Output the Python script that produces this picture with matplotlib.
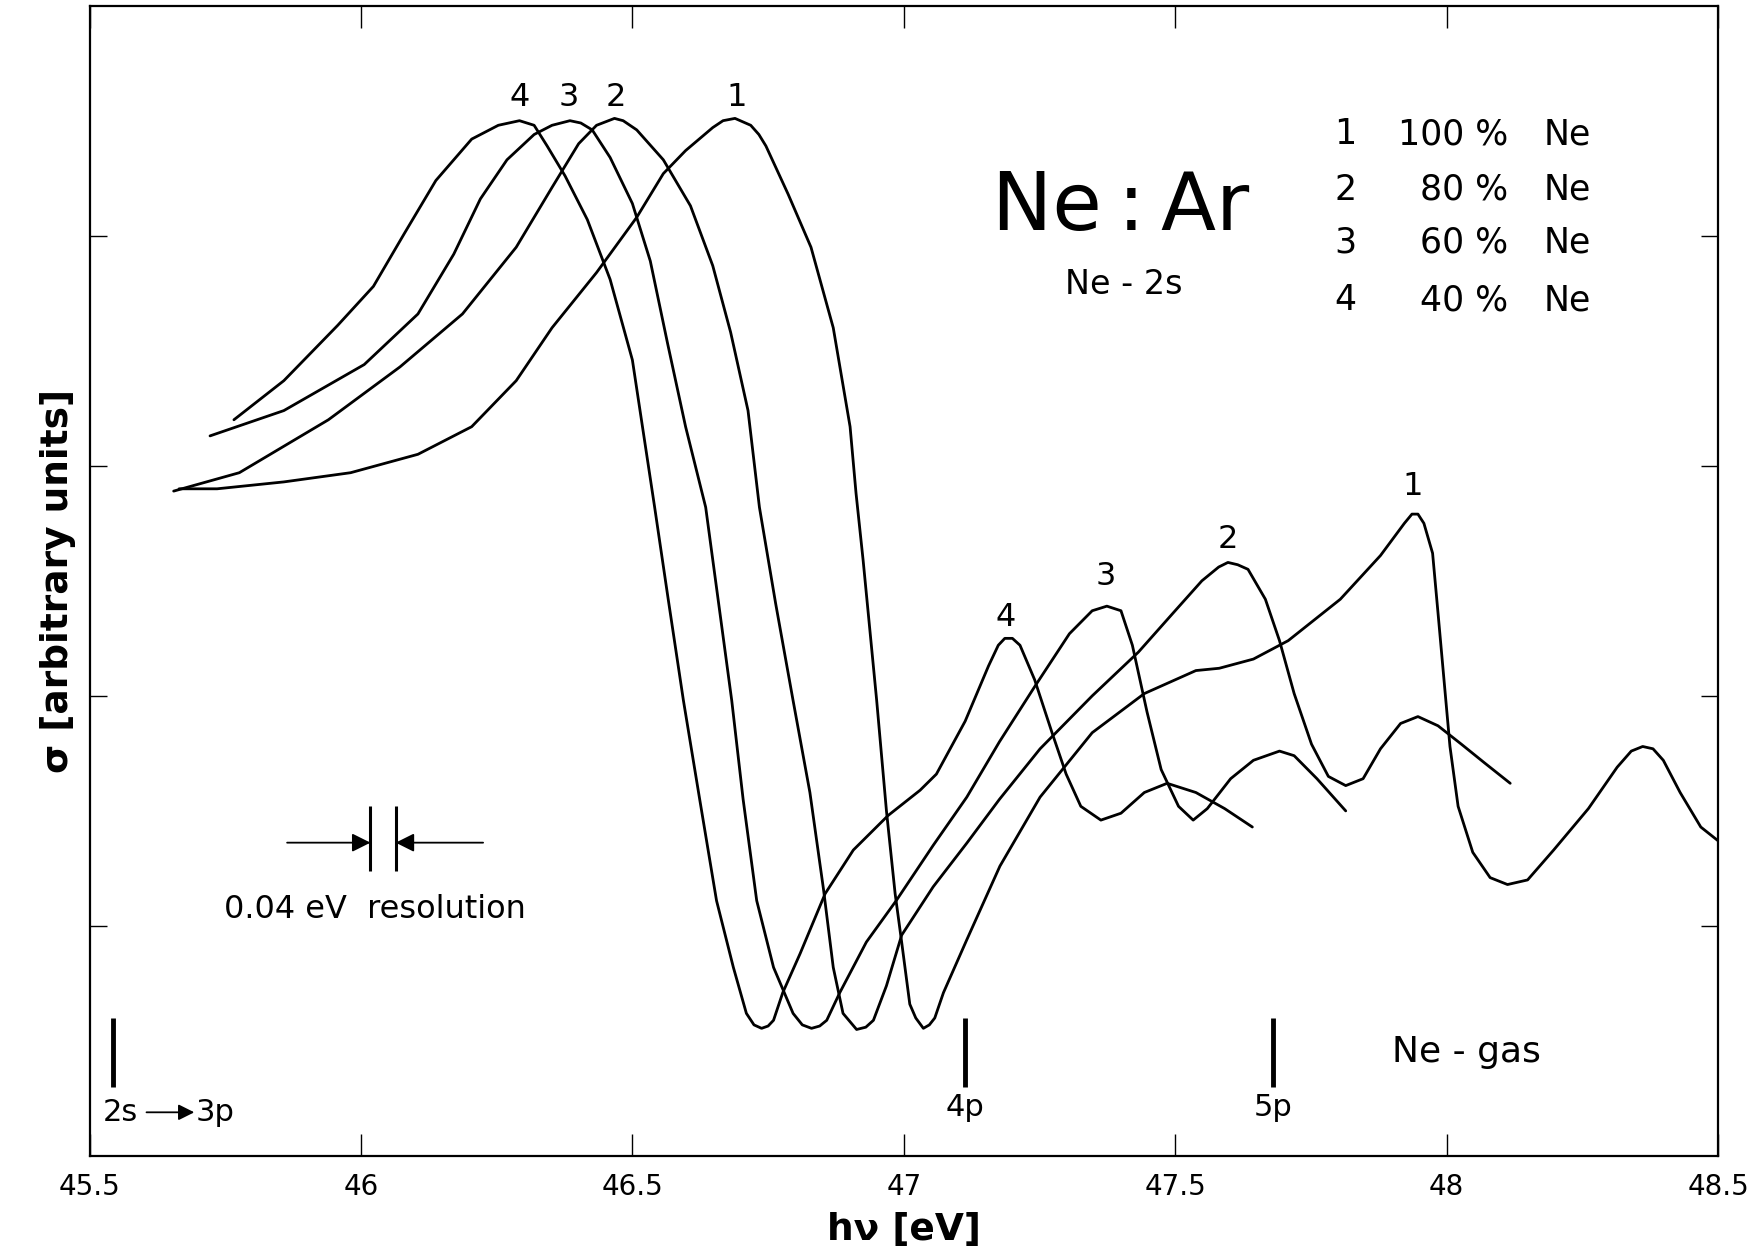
import matplotlib
matplotlib.use('Agg')
import matplotlib.pyplot as plt
import numpy as np

plt.rcParams['font.family'] = ['DejaVu Sans']

# photon energy (eV) and cross section (arb. units)
x1 = [45.665, 45.735, 45.858, 45.981, 46.105, 46.204, 46.286, 46.352, 46.434, 46.508,
      46.557, 46.598, 46.648, 46.667, 46.689, 46.718, 46.733, 46.746, 46.787, 46.829,
      46.870, 46.901, 46.912, 46.925, 46.950, 46.968, 46.984, 46.996, 47.011, 47.022,
      47.036, 47.047, 47.057, 47.073, 47.116, 47.177, 47.251, 47.347, 47.443, 47.538,
      47.581, 47.644, 47.708, 47.804, 47.878, 47.922, 47.936, 47.947, 47.958, 47.974,
      47.984, 47.995, 48.006, 48.021, 48.048, 48.080, 48.112, 48.149, 48.197, 48.261,
      48.314, 48.340, 48.361, 48.380, 48.399, 48.430, 48.468, 48.500]
y1 = [2.90, 2.90, 2.93, 2.97, 3.05, 3.17, 3.37, 3.60, 3.84, 4.08,
      4.27, 4.37, 4.47, 4.50, 4.51, 4.48, 4.44, 4.39, 4.18, 3.95,
      3.60, 3.17, 2.88, 2.59, 1.98, 1.50, 1.14, 0.93, 0.66, 0.60,
      0.555, 0.57, 0.60, 0.71, 0.94, 1.26, 1.56, 1.84, 2.01, 2.11,
      2.12, 2.16, 2.24, 2.42, 2.61, 2.75, 2.79, 2.79, 2.75, 2.62,
      2.36, 2.07, 1.78, 1.52, 1.32, 1.21, 1.18, 1.20, 1.33, 1.51,
      1.69, 1.76, 1.78, 1.77, 1.72, 1.58, 1.43, 1.37]

x2 = [45.655, 45.776, 45.940, 46.072, 46.187, 46.286, 46.352, 46.401, 46.434, 46.467,
      46.483, 46.508, 46.557, 46.607, 46.648, 46.681, 46.713, 46.734, 46.764, 46.796,
      46.827, 46.852, 46.870, 46.888, 46.913, 46.930, 46.944, 46.968, 46.996, 47.054,
      47.116, 47.176, 47.251, 47.347, 47.432, 47.496, 47.549, 47.580, 47.597, 47.615,
      47.634, 47.666, 47.692, 47.719, 47.751, 47.782, 47.814, 47.846, 47.878, 47.915,
      47.947, 47.984, 48.027, 48.069, 48.117]
y2 = [2.89, 2.97, 3.20, 3.43, 3.66, 3.95, 4.21, 4.40, 4.48, 4.51,
      4.50, 4.46, 4.33, 4.13, 3.87, 3.58, 3.24, 2.82, 2.40, 1.98,
      1.58, 1.16, 0.82, 0.62, 0.55, 0.56, 0.59, 0.74, 0.96, 1.17,
      1.36, 1.55, 1.77, 2.00, 2.19, 2.36, 2.50, 2.56, 2.58, 2.57,
      2.55, 2.42, 2.24, 2.01, 1.79, 1.65, 1.61, 1.64, 1.77, 1.88,
      1.91, 1.87, 1.79, 1.71, 1.62]

x3 = [45.722, 45.858, 46.006, 46.105, 46.171, 46.220, 46.269, 46.319, 46.352, 46.385,
      46.405, 46.426, 46.459, 46.500, 46.533, 46.565, 46.598, 46.635, 46.659, 46.683,
      46.704, 46.729, 46.760, 46.796, 46.813, 46.830, 46.845, 46.858, 46.882, 46.931,
      46.986, 47.054, 47.116, 47.176, 47.241, 47.305, 47.347, 47.374, 47.400, 47.421,
      47.448, 47.474, 47.506, 47.533, 47.559, 47.602, 47.644, 47.692, 47.719, 47.761,
      47.814]
y3 = [3.13, 3.24, 3.44, 3.66, 3.92, 4.16, 4.33, 4.44, 4.48, 4.50,
      4.49, 4.46, 4.34, 4.14, 3.89, 3.53, 3.17, 2.82, 2.40, 1.98,
      1.55, 1.11, 0.82, 0.62, 0.57, 0.555, 0.565, 0.59, 0.71, 0.93,
      1.11, 1.35, 1.56, 1.80, 2.04, 2.27, 2.37, 2.39, 2.37, 2.22,
      1.93, 1.68, 1.52, 1.46, 1.51, 1.64, 1.72, 1.76, 1.74, 1.64,
      1.50]

x4 = [45.766, 45.858, 45.957, 46.023, 46.080, 46.138, 46.204, 46.253, 46.292, 46.319,
      46.343, 46.376, 46.417, 46.459, 46.500, 46.541, 46.566, 46.594, 46.624, 46.655,
      46.686, 46.710, 46.724, 46.738, 46.750, 46.760, 46.777, 46.809, 46.855, 46.907,
      46.971, 47.030, 47.060, 47.113, 47.156, 47.174, 47.186, 47.200, 47.214, 47.241,
      47.273, 47.299, 47.326, 47.363, 47.400, 47.443, 47.485, 47.538, 47.591, 47.642]
y4 = [3.20, 3.37, 3.61, 3.78, 4.01, 4.24, 4.42, 4.48, 4.50, 4.48,
      4.39, 4.26, 4.07, 3.81, 3.46, 2.82, 2.42, 1.98, 1.55, 1.11,
      0.82, 0.62, 0.57, 0.555, 0.565, 0.59, 0.71, 0.88, 1.14, 1.33,
      1.48, 1.59, 1.66, 1.89, 2.13, 2.22, 2.25, 2.25, 2.22, 2.07,
      1.84, 1.66, 1.52, 1.46, 1.49, 1.58, 1.62, 1.58, 1.51, 1.43]

curves = [(x1, y1), (x2, y2), (x3, y3), (x4, y4)]
curve_names = ['1', '2', '3', '4']
ne_percent = ['100 %', '80 %', '60 %', '40 %']

# peak labels: (x, y) of the number written above each peak
top_label_x = [46.692, 46.469, 46.382, 46.292]
top_label_y = [4.60, 4.60, 4.60, 4.60]
right_label_x = [47.937, 47.597, 47.372, 47.187]
right_label_y = [2.91, 2.68, 2.52, 2.34]

# Ne-gas Rydberg lines
line_pos = [45.544, 47.112, 47.680]
line_names = ['4p', '5p']

xticks = [45.5, 46, 46.5, 47, 47.5, 48, 48.5]
xticklabels = ['45.5', '46', '46.5', '47', '47.5', '48', '48.5']

fig = plt.figure(figsize=(17.55, 12.56), dpi=100)
ax = fig.add_axes([0.051, 0.0796, 0.928, 0.9159])

for xs, ys in curves:
    ax.plot(xs, ys, color='k', linewidth=2.0, solid_joinstyle='round', solid_capstyle='round')

for i in range(4):
    ax.text(top_label_x[i], top_label_y[i], curve_names[i], ha='center', va='center', fontsize=23)
    ax.text(right_label_x[i], right_label_y[i], curve_names[i], ha='center', va='center', fontsize=23)

ax.text(47.400, 4.12, 'Ne\u2009:\u2009Ar', ha='center', va='center', fontsize=58)
ax.text(47.406, 3.79, 'Ne - 2s', ha='center', va='center', fontsize=24)

leg_y = [4.44, 4.20, 3.97, 3.72]
for i in range(4):
    ax.text(47.813, leg_y[i], curve_names[i], ha='center', va='center', fontsize=25)
    ax.text(48.113, leg_y[i], ne_percent[i], ha='right', va='center', fontsize=25)
    ax.text(48.179, leg_y[i], 'Ne', ha='left', va='center', fontsize=25)

# resolution marker
ax.vlines([46.0175, 46.064], 1.24, 1.52, color='k', linewidth=2.2)
ax.annotate('', xy=(46.0175, 1.362), xytext=(45.864, 1.362),
            arrowprops=dict(arrowstyle='-|>', color='k', lw=1.3, mutation_scale=28, shrinkA=0, shrinkB=0))
ax.annotate('', xy=(46.064, 1.362), xytext=(46.225, 1.362),
            arrowprops=dict(arrowstyle='-|>', color='k', lw=1.3, mutation_scale=28, shrinkA=0, shrinkB=0))
ax.text(46.026, 1.07, '0.04 eV  resolution', ha='center', va='center', fontsize=23)

# level marks
ax.vlines(line_pos, 0.30, 0.60, color='k', linewidth=3.5)
ax.text(45.524, 0.19, '2s', ha='left', va='center', fontsize=22)
ax.annotate('', xy=(45.693, 0.19), xytext=(45.605, 0.19),
            arrowprops=dict(arrowstyle='-|>', color='k', lw=1.3, mutation_scale=24, shrinkA=0, shrinkB=0))
ax.text(45.696, 0.19, '3p', ha='left', va='center', fontsize=22)
for i in range(2):
    ax.text(line_pos[i + 1], 0.21, line_names[i], ha='center', va='center', fontsize=22)
ax.text(48.037, 0.45, 'Ne - gas', ha='center', va='center', fontsize=26)

ax.set_xlim(45.5, 48.5)
ax.set_ylim(0, 5)
ax.set_xticks(xticks)
ax.set_xticklabels(xticklabels)
ax.set_yticks([1, 2, 3, 4])
ax.set_yticklabels([])
ax.tick_params(axis='x', direction='in', length=16, width=1, top=True, labelsize=20, pad=12)
ax.tick_params(axis='y', direction='in', length=12, width=1, right=True)
for sp in ax.spines.values():
    sp.set_linewidth(1.6)

ax.set_xlabel('h\u03bd [eV]', fontsize=27, fontweight='bold', labelpad=8)
ax.set_ylabel('\u03c3 [arbitrary units]', fontsize=27, fontweight='bold', labelpad=6)

plt.savefig('out.png', dpi=100)
